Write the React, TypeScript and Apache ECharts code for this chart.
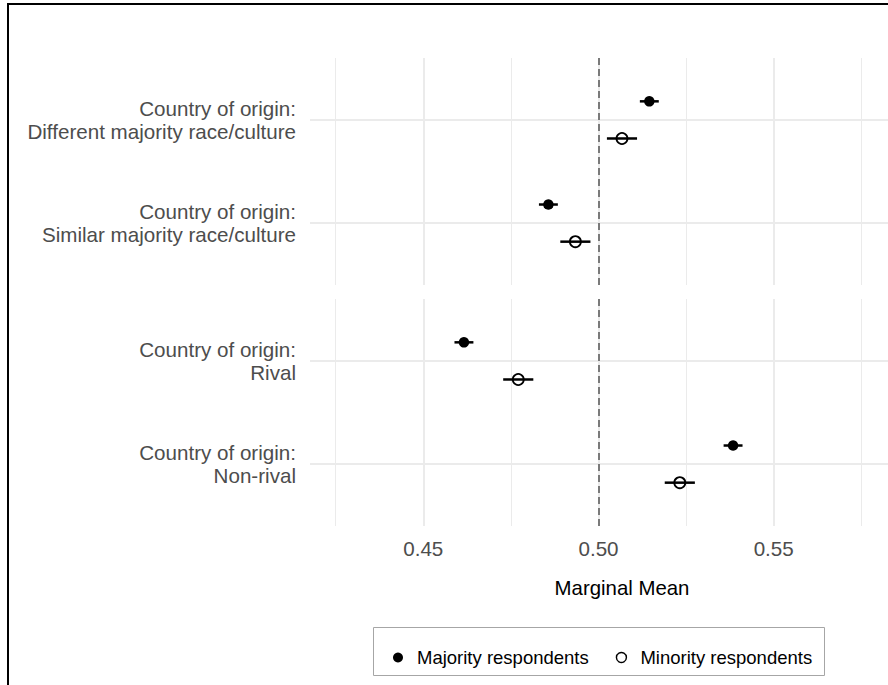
import React, { useEffect, useRef } from "react";
import * as echarts from "echarts";

const categories = [
  "Country of origin:\nDifferent majority race/culture",
  "Country of origin:\nSimilar majority race/culture",
  "Country of origin:\nRival",
  "Country of origin:\nNon-rival",
];
const panelOf = [0, 0, 1, 1];
const slotOf = [1, 2, 1, 2];

const majorityMean = [0.5145, 0.4857, 0.4616, 0.5384];
const majorityLow = [0.5118, 0.483, 0.4589, 0.5357];
const majorityHigh = [0.5172, 0.4884, 0.4643, 0.5411];

const minorityMean = [0.5067, 0.4934, 0.4771, 0.5232];
const minorityLow = [0.5024, 0.4891, 0.4728, 0.5189];
const minorityHigh = [0.511, 0.4977, 0.4814, 0.5275];

const majorTicks = [0.45, 0.5, 0.55];
const minorTicks = [0.425, 0.475, 0.525, 0.575];
const referenceLine = 0.5;

const seriesNames = ["Majority respondents", "Minority respondents"];
const xTitle = "Marginal Mean";

const FONT = "'Liberation Sans', Arial, Helvetica, sans-serif";

export default function App() {
  const ref = useRef<HTMLDivElement>(null);
  useEffect(() => {
    if (!ref.current) return;
    const chart = echarts.init(ref.current, undefined, { renderer: "svg" });
    const xMin = 0.41767;
    const xMax = 0.59574;
    const dodge = 0.18;
    const gridColor = "#ebebeb";

    const grids = [
      { left: 310, top: 58, width: 624, height: 227, outerBoundsMode: "none", containLabel: false },
      { left: 310, top: 299, width: 624, height: 227, outerBoundsMode: "none", containLabel: false },
    ];

    const xAxes: any[] = [];
    [0, 1].forEach((p) => {
      xAxes.push({
        type: "value",
        gridIndex: p,
        min: xMin,
        max: xMax,
        axisLine: { show: false },
        axisTick: { show: false, customValues: majorTicks },
        axisLabel: {
          show: p === 1,
          customValues: majorTicks,
          formatter: (v: number) => v.toFixed(2),
          color: "#4d4d4d",
          fontSize: 20.6,
          fontFamily: FONT,
          margin: 12,
        },
        splitLine: { show: true, lineStyle: { color: gridColor, width: 2 } },
        name: p === 1 ? xTitle : "",
        nameLocation: "middle",
        nameGap: 52,
        nameTextStyle: { color: "#000", fontSize: 20.4, fontFamily: FONT },
      });
      xAxes.push({
        type: "value",
        gridIndex: p,
        min: xMin,
        max: xMax,
        axisLine: { show: false },
        axisTick: { show: false, customValues: minorTicks },
        axisLabel: { show: false, customValues: minorTicks },
        splitLine: { show: true, lineStyle: { color: gridColor, width: 1 } },
      });
    });

    const yAxes = [0, 1].map((p) => ({
      type: "value",
      gridIndex: p,
      min: 0.4,
      max: 2.6,
      inverse: true,
      axisLine: { show: false },
      axisTick: { show: false, customValues: [1, 2] },
      axisLabel: {
        customValues: [1, 2],
        formatter: (v: number) => categories[p * 2 + Math.round(v) - 1],
        color: "#4d4d4d",
        fontSize: 20.6,
        lineHeight: 22.5,
        fontFamily: FONT,
        margin: 14,
        align: "right",
      },
      splitLine: { show: true, lineStyle: { color: gridColor, width: 2 } },
    }));

    const series: any[] = [];
    [0, 1].forEach((p) => {
      const idx = categories.map((_, i) => i).filter((i) => panelOf[i] === p);
      const errData = (low: number[], high: number[], off: number) =>
        idx.map((i) => [low[i], high[i], slotOf[i] + off]);
      const renderItem = (params: any, api: any) => {
        const a = api.coord([api.value(0), api.value(2)]);
        const b = api.coord([api.value(1), api.value(2)]);
        return {
          type: "line",
          shape: { x1: a[0], y1: a[1], x2: b[0], y2: b[1] },
          style: { stroke: "#000", lineWidth: 2.5 },
        };
      };
      series.push({
        type: "custom",
        name: "ci-maj-" + p,
        xAxisIndex: p * 2,
        yAxisIndex: p,
        renderItem,
        encode: { x: [0, 1], y: 2 },
        data: errData(majorityLow, majorityHigh, -dodge),
        z: 3,
        markLine: {
          silent: true,
          symbol: "none",
          label: { show: false },
          lineStyle: { color: "#7a7a7a", type: [7, 4], width: 2 },
          data: [{ xAxis: referenceLine }],
          z: 2,
        },
      });
      series.push({
        type: "custom",
        name: "ci-min-" + p,
        xAxisIndex: p * 2,
        yAxisIndex: p,
        renderItem,
        encode: { x: [0, 1], y: 2 },
        data: errData(minorityLow, minorityHigh, dodge),
        z: 3,
      });
      series.push({
        type: "scatter",
        name: seriesNames[0],
        xAxisIndex: p * 2,
        yAxisIndex: p,
        symbol: "circle",
        symbolSize: 10.5,
        itemStyle: { color: "#000", opacity: 1 },
        data: idx.map((i) => [majorityMean[i], slotOf[i] - dodge]),
        z: 4,
      });
      series.push({
        type: "scatter",
        name: seriesNames[1],
        xAxisIndex: p * 2,
        yAxisIndex: p,
        symbol: "circle",
        symbolSize: 11,
        itemStyle: { color: "rgba(0,0,0,0)", borderColor: "#000", borderWidth: 1.8, opacity: 1 },
        data: idx.map((i) => [minorityMean[i], slotOf[i] + dodge]),
        z: 4,
      });
    });

    chart.setOption({
      animation: false,
      backgroundColor: "#fff",
      textStyle: { fontFamily: FONT },
      grid: grids,
      xAxis: xAxes,
      yAxis: yAxes,
      legend: {
        left: 388,
        top: 643,
        itemWidth: 28,
        itemHeight: 10,
        itemGap: 27,
        selectedMode: false,
        textStyle: { color: "#000", fontSize: 18.5, fontFamily: FONT },
        data: [
          { name: seriesNames[0], icon: "circle", itemStyle: { color: "#000" } },
          {
            name: seriesNames[1],
            icon: "circle",
            itemStyle: { color: "#fff", borderColor: "#000", borderWidth: 1.4 },
          },
        ],
      },
      graphic: [
        {
          type: "rect",
          shape: { x: 373.5, y: 627.5, width: 451, height: 48 },
          style: { fill: "none", stroke: "#a6a6a6", lineWidth: 1 },
          silent: true,
        },
        {
          type: "polyline",
          shape: { points: [[8, 700], [8, 4], [900, 4]] },
          style: { fill: "none", stroke: "#000", lineWidth: 2 },
          silent: true,
        },
      ],
      series,
    });
    return () => chart.dispose();
  }, []);
  return (
    <div
      ref={ref}
      style={{ position: "absolute", left: 0, top: 0, width: 888, height: 685 }}
    />
  );
}
